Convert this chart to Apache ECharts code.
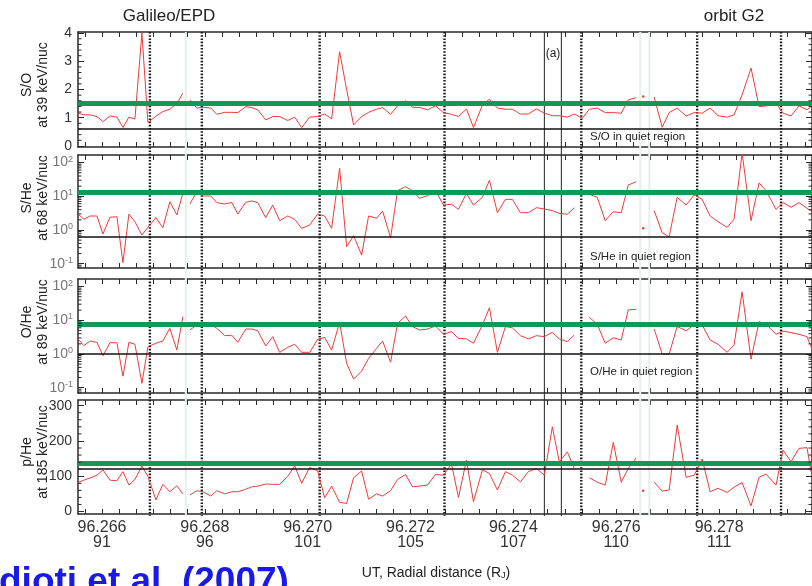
<!DOCTYPE html>
<html>
<head>
<meta charset="utf-8">
<script src="https://cdn.jsdelivr.net/npm/echarts@6/dist/echarts.min.js"></script>
<style>
  html, body { margin: 0; padding: 0; background: #fff; }
  #chart { width: 812px; height: 586px; }
</style>
</head>
<body>
<div id="chart"></div>
<script>
// Sample times (UT, decimal day) shared by all four ratio panels
const ut = [
  96.265534, 96.265650, 96.265767, 96.265903, 96.266019, 96.266155, 96.266291, 96.266408, 96.266524, 96.266641,
  96.266777, 96.266893, 96.267049, 96.267184, 96.267320, 96.267456, 96.267573, 96.267641, 96.267709, 96.267845,
  96.267961, 96.268117, 96.268233, 96.268388, 96.268524, 96.268641, 96.268796, 96.268913, 96.269029, 96.269184,
  96.269320, 96.269456, 96.269612, 96.269748, 96.269883, 96.270039, 96.270194, 96.270330, 96.270466, 96.270621,
  96.270757, 96.270893, 96.271049, 96.271184, 96.271340, 96.271456, 96.271612, 96.271748, 96.271903, 96.272039,
  96.272175, 96.272330, 96.272485, 96.272641, 96.272796, 96.272932, 96.273087, 96.273223, 96.273398, 96.273534,
  96.273689, 96.273845, 96.273981, 96.274136, 96.274291, 96.274447, 96.274602, 96.274757, 96.274893, 96.275049,
  96.275184, 96.275340, 96.275476, 96.275631, 96.275786, 96.275942, 96.276097, 96.276233, 96.276388, 96.276466,
  96.276524, 96.276641, 96.276738, 96.276893, 96.277029, 96.277184, 96.277359, 96.277515, 96.277670, 96.277825,
  96.277981, 96.278155, 96.278291, 96.278447, 96.278621, 96.278777, 96.278913, 96.279107, 96.279243, 96.279398,
  96.279553, 96.279709, 96.279786
];

// S/O at 39 keV/nuc
const soRatio = [
  1.16, 1.10, 1.10, 1.04, 0.86, 1.06, 1.02, 0.65, 1.02, 0.95,
  4.00, 0.83, 1.05, 1.22, 1.30, 1.50, 1.87, null, 1.63, 1.34,
  1.37, 1.34, 1.12, 1.19, 1.19, 1.18, 1.39, 1.36, 1.28, 0.92,
  1.04, 1.04, 0.90, 1.02, 0.65, 1.02, 1.04, 1.13, 0.96, 3.34,
  2.00, 0.74, 1.04, 1.19, 1.30, 1.36, 1.12, 1.42, 1.60, 1.37,
  1.36, 1.28, 1.42, 1.18, 1.12, 1.04, 1.31, 0.65, 1.45, 1.66,
  1.34, 1.30, 1.30, 1.13, 1.13, 1.31, 1.16, 1.07, 1.07, 1.02,
  1.13, 0.98, 1.30, 1.34, 1.18, 1.18, 1.16, 1.63, 1.71, null,
  1.75, null, 1.73, 0.66, 1.18, 1.34, 1.06, 1.18, 1.16, 1.34,
  1.07, 1.02, 1.10, 1.81, 2.76, 1.39, 1.42, 1.51, 1.16, 1.06,
  1.42, 1.28, 1.39
];

// S/He at 68 keV/nuc
const sHeRatio = [
  2.98, 2.08, 2.6, 2.6, 0.76, 2.38, 2.48, 0.107, 2.98, 1.76,
  0.71, 1.2, 2.32, 1.17, 6.9, 2.8, 12.3, null, 5.9, 13.7,
  10.2, 10.2, 6.5, 5.9, 6.6, 2.98, 6.6, 7.3, 6.5, 2.32,
  5.5, 1.89, 2.6, 2.08, 1.12, 1.4, 2.98, 2.6, 1.12, 68,
  0.32, 0.68, 0.18, 2.6, 2.22, 3.66, 0.59, 14.7, 19.3, 14.4,
  8.7, 10.4, 14.7, 5.5, 5.8, 4.1, 12.3, 5.5, 9.3, 30,
  3.26, 8.1, 8.1, 3.26, 3.26, 4.6, 4.2, 3.74, 3.1, 2.93,
  4.6, null, 11.5, 9.3, 1.89, 3.5, 3.26, 21.6, 27, null,
  1.12, null, 3.74, 0.83, 0.63, 9.3, 5.5, 10.9, 8.1, 2.6,
  1.76, 1.2, 2.08, 190, 1.89, 25, 14.7, 4.1, 6.5, 4.7,
  6.5, 4.4, 3.66
];

// O/He at 89 keV/nuc
const oHeRatio = [
  2.8, 1.77, 2.43, 2.22, 0.89, 2.16, 2.16, 0.22, 2.22, 1.94,
  0.135, 1.65, 2.08, 2.43, 5.8, 1.31, 12.8, null, 5.15, 7.3,
  8.1, 7.6, 5.8, 3.5, 3.6, 2.22, 5.5, 5.5, 4.9, 1.73,
  3.27, 1.12, 1.58, 1.94, 1.12, 1.12, 2.73, 3.1, 1.31, 8.7,
  0.53, 0.18, 0.31, 0.74, 1.47, 2.43, 0.57, 8.1, 13.4, 6.5,
  5.15, 5.5, 6.8, 3.85, 4.6, 2.92, 2.8, 2.08, 7.3, 23.6,
  1.12, 6.5, 6.0, 3.5, 2.8, 3.5, 3.27, 4.4, 2.8, 2.32,
  3.66, null, 12.3, 7.6, 2.08, 3.05, 2.6, 20.2, 21.2, null,
  null, null, 5.5, 1.0, 1.0, 6.5, 4.9, 7.3, 7.3, 2.6,
  1.94, 1.12, 1.85, 70, 0.7, 9.1, 7.6, 3.85, 4.8, 4.3,
  3.85, 3.27, 1.65
];

// p/He at 185 keV/nuc
const pHeRatio = [
  82, 89, 95, 103, 118, 89, 87, 113, 75, 91,
  129, 100, 33, 77, 56, 73, 50, null, 47, 59,
  56, 44, 59, 50, 56, 56, 63, 70, 72, 78,
  77, 77, 100, 129, 80, 125, 115, 39, 72, 26,
  23, 96, 115, 35, 50, 44, 59, 91, 105, 70,
  72, 75, 105, 103, 135, 40, 146, 28, 118, 108,
  61, 113, 103, 84, 113, 122, 103, 240, 141, 169,
  122, null, 96, 83, 75, 196, 83, 122, 152, null,
  59, null, 83, 58, 61, 245, 97, 103, 149, 56,
  66, 54, 69, 82, 16, 97, 106, 75, 174, 141,
  179, 181, 113
];

// Reference levels per panel (S/O, S/He, O/He, p/He)
const eventLevels = [1.52, 12.8, 7.8, 136];
const quietLevels = [0.62, 0.61, 1.0, 121];

// Time markers
const boundaryTimes = [96.266932, 96.267942, 96.270233, 96.272660, 96.275320, 96.277573, 96.279204];
const intervalTimes = [96.274602, 96.274932];
const gapTimes = [96.267631, 96.276466, 96.276641];

// Bottom axis labels: UT and radial distance
const utLabels = [96.266, 96.268, 96.270, 96.272, 96.274, 96.276, 96.278];
const rjLabels = ['91', '96', '101', '105', '107', '110', '111'];

const X_MIN = 96.265534, X_MAX = 96.279806;
const FONT = '"Liberation Sans", Arial, Helvetica, sans-serif';
const FRAME = '#2a2a2a';
const RED = '#ee3b3b';
const GREEN = '#109a55';

const layout = [
  { top: 32, height: 115 },
  { top: 155, height: 113 },
  { top: 279, height: 114 },
  { top: 400, height: 114 }
];
const GRID_LEFT = 78, GRID_WIDTH = 735;

const panels = [
  { values: soRatio, log: false, range: [-0.04, 4.04], majors: [0, 1, 2, 3, 4], minorStep: 0.2 },
  { values: sHeRatio, log: true, range: [0.0745, 168] },
  { values: oHeRatio, log: true, range: [0.0696, 168] },
  { values: pHeRatio, log: false, range: [-7, 316], majors: [0, 100, 200, 300], minorStep: 20 }
];

// x ticks every 1/6 of a label interval
const xStep = 0.002 / 6;
const xTicks = [];
for (let k = -1; 96.266 + k * xStep <= X_MAX; k++) xTicks.push(+(96.266 + k * xStep).toFixed(7));

function minorValues(panel) {
  const out = [];
  if (panel.log) {
    for (let d = -2; d <= 2; d++) {
      for (let m = 2; m <= 9; m++) {
        const v = m * Math.pow(10, d);
        if (v > panel.range[0] && v < panel.range[1]) out.push(v);
      }
    }
  } else {
    const lo = panel.majors[0], hi = panel.majors[panel.majors.length - 1];
    const n = Math.round((hi - lo) / panel.minorStep);
    for (let k = 0; k <= n; k++) {
      const v = +(lo + k * panel.minorStep).toFixed(6);
      if (!panel.majors.includes(v)) out.push(v);
    }
  }
  return out;
}

function seriesData(values) {
  return ut.map((t, i) => {
    const v = values[i];
    if (v == null) return [t, '-'];
    const prevNull = i === 0 || values[i - 1] == null;
    const nextNull = i === values.length - 1 || values[i + 1] == null;
    if (prevNull && nextNull) return { value: [t, v], symbol: 'circle', symbolSize: 2.5 };
    return [t, v];
  });
}

const superDigits = (e) => `{b|10}{e|${e}}`;

const grids = [], xAxes = [], yAxes = [], series = [];

panels.forEach((panel, p) => {
  grids.push({ left: GRID_LEFT, width: GRID_WIDTH, top: layout[p].top, height: layout[p].height, containLabel: false });

  const xBase = {
    type: 'value', gridIndex: p, min: X_MIN, max: X_MAX,
    axisLine: { show: true, onZero: false, lineStyle: { color: FRAME, width: 1.5 } },
    axisTick: { show: true, inside: true, length: 5, customValues: xTicks, lineStyle: { color: FRAME, width: 1 } },
    splitLine: { show: false }
  };
  xAxes.push(Object.assign({}, xBase, {
    position: 'bottom',
    axisLabel: p === 3 ? {
      show: true, customValues: utLabels, margin: 6,
      fontFamily: FONT, fontSize: 16, color: '#333', lineHeight: 15,
      formatter: (val) => {
        const i = utLabels.findIndex(u => Math.abs(u - val) < 1e-7);
        return i < 0 ? '' : utLabels[i].toFixed(3) + '\n' + rjLabels[i];
      }
    } : { show: false }
  }));
  xAxes.push(Object.assign({}, xBase, { position: 'top', axisLabel: { show: false } }));

  const yBase = {
    gridIndex: p, min: panel.range[0], max: panel.range[1],
    axisLine: { show: true, onZero: false, lineStyle: { color: FRAME, width: 1.5 } },
    splitLine: { show: false }
  };
  if (panel.log) {
    yAxes.push(Object.assign({}, yBase, {
      type: 'log', logBase: 10, position: 'left',
      axisTick: { show: true, inside: true, length: 6, lineStyle: { color: FRAME } },
      axisLabel: {
        show: true, showMinLabel: false, showMaxLabel: false, margin: 5,
        fontFamily: FONT, color: '#777',
        formatter: (v) => superDigits(Math.round(Math.log10(v))),
        rich: {
          b: { fontFamily: FONT, fontSize: 14, color: '#777', lineHeight: 16 },
          e: { fontFamily: FONT, fontSize: 9, color: '#777', verticalAlign: 'top', lineHeight: 10 }
        }
      }
    }));
    yAxes.push(Object.assign({}, yBase, {
      type: 'log', logBase: 10, position: 'right',
      axisTick: { show: true, inside: true, length: 6, lineStyle: { color: FRAME } },
      axisLabel: { show: false }
    }));
  } else {
    yAxes.push(Object.assign({}, yBase, {
      type: 'value', position: 'left',
      axisTick: { show: true, inside: true, length: 6, customValues: panel.majors, lineStyle: { color: FRAME } },
      axisLabel: { show: true, customValues: panel.majors, margin: 6, fontFamily: FONT, fontSize: 14, color: '#333' }
    }));
    yAxes.push(Object.assign({}, yBase, {
      type: 'value', position: 'right',
      axisTick: { show: true, inside: true, length: 6, customValues: panel.majors, lineStyle: { color: FRAME } },
      axisLabel: { show: false }
    }));
  }

  // ratio curve with event and quiet-region levels
  series.push({
    type: 'line', xAxisIndex: 2 * p, yAxisIndex: 2 * p, z: 3,
    data: seriesData(panel.values),
    symbol: 'none', showSymbol: true, showAllSymbol: true, connectNulls: false,
    lineStyle: { color: RED, width: 1 }, itemStyle: { color: RED },
    animation: false,
    markLine: {
      silent: true, symbol: 'none', animation: false, z: 4,
      label: { show: false },
      data: [
        { yAxis: eventLevels[p], lineStyle: { color: GREEN, width: 5, type: 'solid' } },
        { yAxis: quietLevels[p], lineStyle: { color: '#111', width: 1.6, type: 'solid' } }
      ]
    }
  });

  // minor ticks on both vertical frame edges
  series.push({
    type: 'custom', xAxisIndex: 2 * p, yAxisIndex: 2 * p, silent: true, clip: false, z: 5,
    data: minorValues(panel).map(v => [X_MIN, v]),
    renderItem: (params, api) => {
      const cs = params.coordSys;
      const y = api.coord([X_MIN, api.value(1)])[1];
      const st = { stroke: FRAME, lineWidth: 1 };
      return {
        type: 'group', children: [
          { type: 'line', shape: { x1: cs.x, y1: y, x2: cs.x + 3.5, y2: y }, style: st },
          { type: 'line', shape: { x1: cs.x + cs.width - 3.5, y1: y, x2: cs.x + cs.width, y2: y }, style: st }
        ]
      };
    }
  });
});

// Full-height overlay for the time markers spanning all panels
grids.push({ left: GRID_LEFT, width: GRID_WIDTH, top: 32, height: 484, containLabel: false });
xAxes.push({ type: 'value', gridIndex: 4, min: X_MIN, max: X_MAX, show: false });
yAxes.push({ type: 'value', gridIndex: 4, min: 0, max: 1, show: false });

const markerData = []
  .concat(gapTimes.map(t => [t, 2]))
  .concat(boundaryTimes.map(t => [t, 0]))
  .concat(intervalTimes.map(t => [t, 1]));

series.push({
  type: 'custom', xAxisIndex: 8, yAxisIndex: 8, silent: true, clip: false, z: 1,
  data: markerData,
  renderItem: (params, api) => {
    const cs = params.coordSys;
    const x = api.coord([api.value(0), 0])[0];
    const kind = api.value(1);
    const style = kind === 0
      ? { stroke: '#1a1a1a', lineWidth: 2.4, lineDash: [1.6, 1.6] }
      : kind === 1
        ? { stroke: '#222', lineWidth: 1 }
        : { stroke: '#e4f1ef', lineWidth: 2 };
    return { type: 'line', shape: { x1: x, y1: cs.y, x2: x, y2: cs.y + cs.height }, style };
  }
});

const txt = (x, y, text, extra) => ({
  type: 'text', x, y, silent: true, z: 10,
  style: Object.assign({ text, fontFamily: FONT, fontSize: 14, fill: '#222', align: 'center', verticalAlign: 'middle' }, extra || {})
});
const rotTxt = (x, y, text) => Object.assign(txt(x, y, text), { rotation: Math.PI / 2 });

const graphic = [
  txt(169, 16, 'Galileo/EPD', { fontSize: 17 }),
  txt(734, 16, 'orbit G2', { fontSize: 17 }),
  rotTxt(27, 85, 'S/O'), rotTxt(43, 85, 'at 39 keV/nuc'),
  rotTxt(27, 198, 'S/He'), rotTxt(43, 198, 'at 68 keV/nuc'),
  rotTxt(27, 322, 'O/He'), rotTxt(43, 322, 'at 89 keV/nuc'),
  rotTxt(27, 452, 'p/He'), rotTxt(43, 452, 'at 185 keV/nuc'),
  txt(553, 54, '(a)', { fontSize: 12 }),
  txt(590, 137, 'S/O in quiet region', { fontSize: 11.5, align: 'left' }),
  txt(590, 257, 'S/He in quiet region', { fontSize: 11.5, align: 'left' }),
  txt(590, 372, 'O/He in quiet region', { fontSize: 11.5, align: 'left' }),
  {
    type: 'text', x: 436, y: 573, silent: true, z: 10,
    style: {
      text: '{n|UT, Radial distance (R}{s|J}{n|)}', align: 'center', verticalAlign: 'middle',
      rich: {
        n: { fontFamily: FONT, fontSize: 14, fill: '#222', color: '#222' },
        s: { fontFamily: FONT, fontSize: 9, fill: '#222', color: '#222', verticalAlign: 'bottom' }
      }
    }
  },
  txt(-1, 583, 'dioti et al. (2007)', { fontSize: 37, fontWeight: 'bold', fill: '#1a1ae6', align: 'left' })
];

const chart = echarts.init(document.getElementById('chart'), null, { renderer: 'canvas', width: 812, height: 586 });
chart.setOption({
  animation: false,
  backgroundColor: '#fff',
  grid: grids,
  xAxis: xAxes,
  yAxis: yAxes,
  series,
  graphic
});
</script>
</body>
</html>
